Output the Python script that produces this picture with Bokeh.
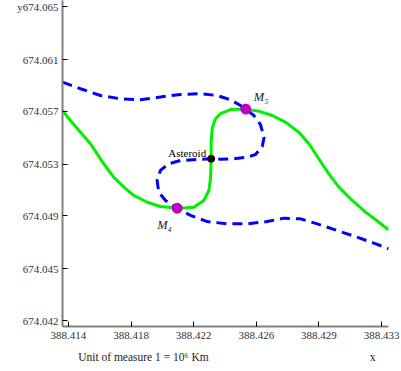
from bokeh.plotting import figure
from bokeh.models import Range1d, FixedTicker, PrintfTickFormatter, LinearAxis
from bokeh.core.properties import value
from bokeh.embed import file_html
from bokeh.resources import INLINE

# ---- data (units of 10^6 km) ----
green_x = [388.41384, 388.41432, 388.41493, 388.41554, 388.41594, 388.41634, 388.41695,
           388.41756, 388.41816, 388.41898, 388.41978, 388.42059, 388.42080, 388.42136,
           388.42181, 388.42241, 388.42272, 388.42282, 388.42286, 388.42286, 388.42292,
           388.42312, 388.42343, 388.42403, 388.42496, 388.42575, 388.42657, 388.42737,
           388.42818, 388.42879, 388.42939, 388.43000, 388.43061, 388.43142, 388.43223,
           388.43304, 388.43362]
green_y = [674.05705, 674.05631, 674.05545, 674.05460, 674.05386, 674.05313, 674.05214,
           674.05141, 674.05080, 674.05030, 674.04999, 674.04989, 674.04986, 674.04989,
           674.04994, 674.05043, 674.05116, 674.05203, 674.05350, 674.05472, 674.05570,
           674.05644, 674.05681, 674.05712, 674.05715, 674.05700, 674.05668, 674.05619,
           674.05545, 674.05460, 674.05350, 674.05239, 674.05141, 674.05043, 674.04957,
           674.04883, 674.04827]

blue_x = [388.41384, 388.41493, 388.41614, 388.41736, 388.41857, 388.41978, 388.42100,
          388.42221, 388.42323, 388.42403, 388.42464, 388.42496, 388.42545, 388.42585,
          388.42607, 388.42596, 388.42555, 388.42505, 388.42423, 388.42343, 388.42286,
          388.42201, 388.42100, 388.42029, 388.41978, 388.41958, 388.41968, 388.42009,
          388.42080, 388.42161, 388.42262, 388.42383, 388.42505, 388.42626, 388.42727,
          388.42828, 388.42930, 388.43051, 388.43172, 388.43273, 388.43364]
blue_y = [674.05913, 674.05865, 674.05815, 674.05791, 674.05784, 674.05804, 674.05823,
          674.05828, 674.05815, 674.05784, 674.05742, 674.05715, 674.05668, 674.05602,
          674.05506, 674.05440, 674.05381, 674.05361, 674.05350, 674.05347, 674.05350,
          674.05344, 674.05337, 674.05313, 674.05264, 674.05190, 674.05104, 674.05043,
          674.04986, 674.04933, 674.04888, 674.04871, 674.04871, 674.04888, 674.04913,
          674.04908, 674.04871, 674.04822, 674.04773, 674.04729, 674.04688]

lib_names = ["M\u2084", "M\u2085"]
lib_x = [388.42080, 388.42496]
lib_y = [674.04986, 674.05715]

ast_name = "Asteroid"
ast_x = [388.42286]
ast_y = [674.05350]

x_ticks = [388.4142, 388.4180, 388.4218, 388.4256, 388.4294, 388.4332]
y_ticks = [674.0416, 674.0454, 674.0493, 674.0531, 674.0570, 674.0608, 674.0647]
x_limits = [388.41384, 388.43362]
y_limits = [674.04116, 674.06514]

x_name = "x"
y_name = "y"
x_caption = "Unit of measure 1 = 10\u2076 Km"
caption_at = [388.41875, 388.43265]   # where the caption and the "x" name sit

SERIF = "Liberation Serif"

p = figure(width=401, height=371, output_backend="svg", toolbar_location=None,
           x_range=Range1d(x_limits[0], x_limits[1]),
           y_range=Range1d(y_limits[0], y_limits[1]),
           min_border_left=62, min_border_right=13, min_border_top=0,
           min_border_bottom=45)
p.grid.visible = False
p.outline_line_color = None
p.background_fill_color = "white"
p.border_fill_color = "white"

p.xaxis.ticker = FixedTicker(ticks=x_ticks)
p.yaxis.ticker = FixedTicker(ticks=y_ticks)
for ax in [p.xaxis[0], p.yaxis[0]]:
    ax.formatter = PrintfTickFormatter(format="%.3f")
    ax.axis_line_color = "#808080"
    ax.axis_line_width = 2
    ax.major_tick_line_color = "black"
    ax.major_tick_line_width = 1
    ax.major_tick_in = 5
    ax.major_tick_out = 0
    ax.minor_tick_line_color = None
    ax.major_label_text_font = SERIF
    ax.major_label_text_font_size = "11px"
    ax.major_label_text_color = "#333333"
p.xaxis.major_label_standoff = 5
p.yaxis.major_label_standoff = 4
# the "y" axis name sits right before the top tick label
p.yaxis.major_label_overrides = {y_ticks[-1]: y_name + "%.3f" % y_ticks[-1]}

# caption row under the x axis: unit note and the "x" axis name
cap = LinearAxis(ticker=FixedTicker(ticks=caption_at),
                 major_label_overrides={caption_at[0]: x_caption, caption_at[1]: x_name},
                 axis_line_color=None, major_tick_line_color=None,
                 minor_tick_line_color=None, major_tick_in=0, major_tick_out=0,
                 major_label_standoff=9, major_label_text_font=SERIF,
                 major_label_text_font_size="11.5px", major_label_text_color="#222222")
p.add_layout(cap, "below")

# curves
p.line(green_x, green_y, line_color="#00f000", line_width=3, line_join="round")
p.line(blue_x, blue_y, line_color="#0000ff", line_width=3, line_dash="10 6")

# points
p.scatter(lib_x, lib_y, size=10, fill_color="#bf00bf", line_color="#bf00bf")
p.scatter(ast_x, ast_y, size=7, fill_color="black", line_color="black")

# point labels
p.text(x=[ast_x[0]], y=[ast_y[0]], text=[ast_name], x_offset=-5, y_offset=-6,
       text_align="right", text_baseline="middle", text_font=value(SERIF),
       text_font_size="11px", text_color="black")
p.text(x=[lib_x[0]], y=[lib_y[0]], text=[lib_names[0]], x_offset=-20, y_offset=17,
       text_align="left", text_baseline="middle", text_font=value(SERIF),
       text_font_style="italic", text_font_size="12.5px", text_color="#222222")
p.text(x=[lib_x[1]], y=[lib_y[1]], text=[lib_names[1]], x_offset=8, y_offset=-12,
       text_align="left", text_baseline="middle", text_font=value(SERIF),
       text_font_style="italic", text_font_size="12.5px", text_color="#222222")

open("out.html", "w").write(file_html(p, INLINE))
